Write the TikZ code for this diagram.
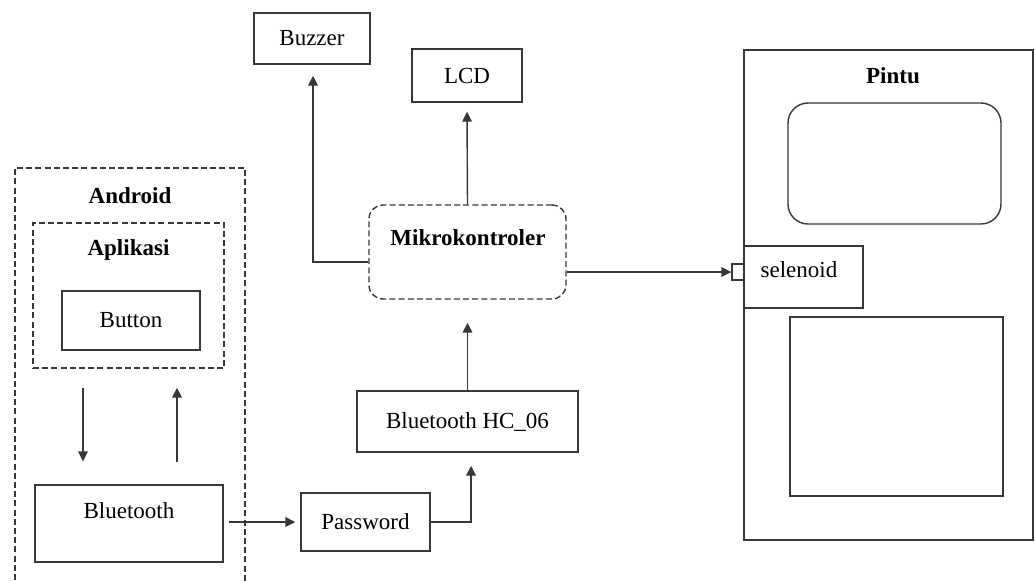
\documentclass[tikz,border=0pt]{standalone}
\usepackage{fontspec}
\setmainfont{Liberation Serif}
\usetikzlibrary{arrows.meta}
\definecolor{ln}{RGB}{55,55,55}
\tikzset{
  box/.style={draw=ln, line width=0.7pt, rectangle, inner sep=0pt},
  dbox/.style={box, dash pattern=on 3pt off 1.6pt},
  lbl/.style={font=\fontsize{11.5}{13}\selectfont, inner sep=0pt, text=black},
  ttl/.style={lbl, font=\fontsize{11.5}{13}\selectfont\bfseries},
  arr/.style={draw=ln, line width=0.7pt, -{Triangle[length=5pt,width=4.8pt]}}
}
\begin{document}
\begin{tikzpicture}[x=0.5pt,y=-0.5pt]
\useasboundingbox (0,0) rectangle (1035,580);
\clip (0,0) rectangle (1035,580);
% Android group
\node[dbox, minimum width=115pt, minimum height=211pt] (android) at (130,379) {};
\node[ttl] (androidlbl) at (130,196) {Android};
\node[dbox, minimum width=95.5pt, minimum height=72.5pt] (aplikasi) at (128.5,295.5) {};
\node[ttl] (aplikasilbl) at (128.5,250) {Aplikasi};
\node[box, lbl, minimum width=69pt, minimum height=29.5pt] (button) at (131,320.5) {Button};
\node[box, minimum width=94pt, minimum height=38.5pt] (bt) at (129,523.5) {};
\node[lbl] (btlbl) at (129,511) {Bluetooth};
% middle
\node[box, lbl, minimum width=58pt, minimum height=25.5pt] (buzzer) at (312,38.5) {Buzzer};
\node[box, lbl, minimum width=55pt, minimum height=26.5pt] (lcd) at (467,75.5) {LCD};
\node[dbox, rounded corners=7pt, minimum width=98.5pt, minimum height=47pt] (mikro) at (467.5,252) {};
\node[ttl] (mikrolbl) at (468,238) {Mikrokontroler};
\node[box, lbl, minimum width=110.5pt, minimum height=30.5pt] (hc06) at (467.5,421.5) {Bluetooth HC\_06};
\node[box, lbl, minimum width=64.5pt, minimum height=29pt] (password) at (365.5,522) {Password};
% Pintu
\node[box, minimum width=144.5pt, minimum height=245pt] (pintu) at (888.5,295) {};
\node[ttl] (pintulbl) at (893,76) {Pintu};
\node[box, rounded corners=10pt, minimum width=106.5pt, minimum height=60.5pt] (window) at (894.5,163.5) {};
\node[box, minimum width=59.5pt, minimum height=31pt] (selenoid) at (803.5,277) {};
\node[lbl] (selenoidlbl) at (799,270) {selenoid};
\node[box, minimum width=6pt, minimum height=8pt] (knob) at (738,272) {};
\node[box, minimum width=106.5pt, minimum height=89.5pt] (lower) at (896.5,406.5) {};
% connectors
\draw[arr] ([xshift=-22.75pt,yshift=-9.5pt]aplikasi.south) -- ([xshift=-23pt,yshift=11.5pt]bt.north);
\draw[arr] ([xshift=24pt,yshift=11pt]bt.north) -- ([xshift=24.25pt,yshift=-9.5pt]aplikasi.south);
\draw[arr] ([xshift=2.5pt]bt.east |- password.west) -- ([xshift=-2.5pt]password.west);
\draw[arr] (password.east) -| ([xshift=1.75pt,yshift=-6.5pt]hc06.south);
\draw[arr] (hc06.north) -- ([yshift=-11.5pt]mikro.south);
\draw[arr] (mikro.north) -- ([yshift=-4.5pt]lcd.south);
\draw[arr] ([yshift=-5pt]mikro.west) -| ([xshift=0.5pt,yshift=-5.5pt]buzzer.south);
\draw[arr] (mikro.east |- knob.west) -- (knob.west);
\end{tikzpicture}
\end{document}
